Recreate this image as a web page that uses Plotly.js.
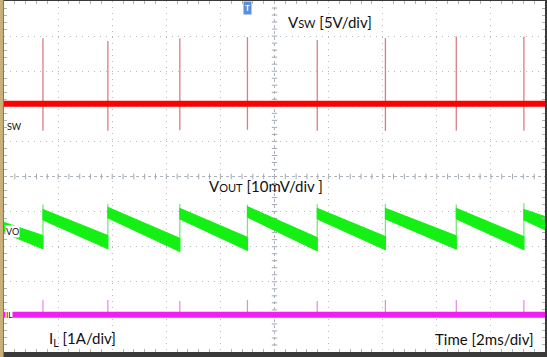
<!DOCTYPE html>
<html><head><meta charset="utf-8">
<script src="https://cdn.plot.ly/plotly-3.0.1.min.js"></script>
<style>html,body{margin:0;padding:0;background:#fff;}#chart{width:547px;height:357px;}</style>
</head><body><div id="chart"></div>
<script>
// Time axis in divisions (2 ms/div), vertical axis in divisions
const jumpT = [0.72, 1.92, 3.25, 4.50, 5.79, 7.05, 8.36, 9.61];
// Switch node (5 V/div)
const swLevel = 2.07;
const swSpikeTop = [3.94, 3.86, 3.94, 3.97, 3.89, 3.94, 3.99, 3.99];
const swSpikeBottom = [1.30, 1.30, 1.32, 1.33, 1.30, 1.30, 1.30, 1.30];
// Output voltage ripple (10 mV/div), per segment centre level
const voSegStart = [0, 0.72, 1.92, 3.25, 4.50, 5.79, 7.05, 8.36, 9.61];
const voSegEnd   = [0.72, 1.92, 3.25, 4.50, 5.79, 7.05, 8.36, 9.61, 10];
const voStartLevel = [-1.45, -1.08, -1.02, -1.05, -1.00, -1.05, -1.05, -1.05, -1.08];
const voEndLevel   = [-1.87, -1.87, -1.95, -1.92, -1.93, -1.90, -1.88, -1.90, -1.33];
const voJumpTop = [-0.80, -0.78, -0.78, -0.80, -0.78, -0.78, -0.80, -0.76];
const voHalf = 0.19;
// Inductor current (1 A/div)
const ilLevel = -3.94;
const ilSpikeTop = [-3.52, -3.52, -3.55, -3.52, -3.55, -3.52, -3.52, -3.52];

const traces = [];
// SW spikes
let sx = [], sy = [];
jumpT.forEach((t, i) => { sx.push(t, t, null); sy.push(swSpikeBottom[i], swSpikeTop[i], null); });
traces.push({x: sx, y: sy, mode: 'lines', line: {color: 'rgba(214,110,120,0.9)', width: 1.3}, hoverinfo: 'skip'});
// SW band
traces.push({x: [0, 10], y: [swLevel, swLevel], mode: 'lines', line: {color: '#ff0000', width: 6}, hoverinfo: 'skip'});
// VO jump lines
let jx = [], jy = [];
jumpT.forEach((t, i) => { jx.push(t, t, null); jy.push(voEndLevel[i] - voHalf, voJumpTop[i], null); });
traces.push({x: jx, y: jy, mode: 'lines', line: {color: 'rgba(110,225,110,0.9)', width: 1.3}, hoverinfo: 'skip'});
// VO bands
let vx = [], vy = [];
voSegStart.forEach((s, i) => {
  const e = voSegEnd[i];
  vx.push(s, e, e, s, s, null);
  vy.push(voStartLevel[i] + voHalf * 0.75, voEndLevel[i] + voHalf, voEndLevel[i] - voHalf, voStartLevel[i] - voHalf * 0.85, voStartLevel[i] + voHalf * 0.75, null);
});
traces.push({x: vx, y: vy, mode: 'lines', fill: 'toself', fillcolor: '#14f014', line: {color: '#14f014', width: 1}, hoverinfo: 'skip'});
// IL spikes
let ix = [], iy = [];
jumpT.forEach((t, i) => { ix.push(t, t, null); iy.push(ilLevel, ilSpikeTop[i], null); });
traces.push({x: ix, y: iy, mode: 'lines', line: {color: 'rgba(230,120,230,0.9)', width: 1.2}, hoverinfo: 'skip'});
// IL band
traces.push({x: [0, 10], y: [ilLevel, ilLevel], mode: 'lines', line: {color: '#f020f0', width: 6}, hoverinfo: 'skip'});

const shapes = [];
// centre crosshair with minor ticks
shapes.push({type: 'line', xref: 'x', yref: 'y', x0: 5, x1: 5, y0: -5, y1: 5, line: {color: '#a8b0b8', width: 1, dash: 'dot'}, layer: 'below'});
shapes.push({type: 'line', xref: 'x', yref: 'y', x0: 0, x1: 10, y0: 0, y1: 0, line: {color: '#a8b0b8', width: 1, dash: 'dot'}, layer: 'below'});
for (let k = 1; k < 50; k++) {
  const yy = -5 + k * 0.2;
  shapes.push({type: 'line', xref: 'x', yref: 'y', x0: 4.95, x1: 5.05, y0: yy, y1: yy, line: {color: '#a0a8b0', width: 1}, layer: 'below'});
  const xx = k * 0.2;
  shapes.push({type: 'line', xref: 'x', yref: 'y', x0: xx, x1: xx, y0: -0.08, y1: 0.08, line: {color: '#a0a8b0', width: 1}, layer: 'below'});
}
// frame decorations
shapes.push({type: 'rect', xref: 'paper', yref: 'paper', x0: -0.0075, x1: -0.001, y0: -0.02, y1: 1.01, fillcolor: '#c8b27a', line: {width: 0}});
shapes.push({type: 'line', xref: 'paper', yref: 'paper', x0: -0.001, x1: -0.001, y0: -0.02, y1: 1.01, line: {color: '#8a7a50', width: 1}});

const font = 'Lato, "Open Sans", sans-serif';
const annotations = [
  {x: 5.22, y: 4.40, xref: 'x', yref: 'y', xanchor: 'left', yanchor: 'middle', showarrow: false,
   text: 'V<span style="font-size:11px">SW</span> [5V/div]', font: {family: font, size: 15, color: '#111'}},
  {x: 3.75, y: -0.28, xref: 'x', yref: 'y', xanchor: 'left', yanchor: 'middle', showarrow: false,
   text: 'V<span style="font-size:11px">OUT</span> [10mV/div ]', font: {family: font, size: 15, color: '#111'}},
  {x: 0.79, y: -4.62, xref: 'x', yref: 'y', xanchor: 'left', yanchor: 'middle', showarrow: false,
   text: 'I<sub>L</sub> [1A/div]', font: {family: font, size: 15, color: '#111'}},
  {x: 9.83, y: -4.62, xref: 'x', yref: 'y', xanchor: 'right', yanchor: 'middle', showarrow: false,
   text: 'Time [2ms/div]', font: {family: font, size: 15, color: '#111'}},
  {x: 0.02, y: 1.42, xref: 'x', yref: 'y', xanchor: 'left', yanchor: 'middle', showarrow: false,
   text: 'SW', font: {family: font, size: 9, color: '#111'}},
  {x: 0.02, y: -1.56, xref: 'x', yref: 'y', xanchor: 'left', yanchor: 'middle', showarrow: false,
   text: 'VO', bgcolor: '#ffffff', borderpad: 0, font: {family: font, size: 9, color: '#111'}},
  {x: 0.02, y: -3.94, xref: 'x', yref: 'y', xanchor: 'left', yanchor: 'middle', showarrow: false,
   text: 'IL', bgcolor: '#ffffff', borderpad: 0, font: {family: font, size: 8, color: '#111'}},
  {x: 4.50, y: 1, xref: 'x', yref: 'paper', xanchor: 'center', yanchor: 'top', showarrow: false,
   text: '<b>T</b>', bgcolor: '#5a8fd8', borderpad: 1, font: {family: font, size: 8, color: '#ffffff'}}
];

const layout = {
  width: 547, height: 357,
  margin: {l: 4, r: 2, t: 1, b: 5, pad: 0},
  paper_bgcolor: '#3a3a3a', plot_bgcolor: '#ffffff',
  showlegend: false,
  xaxis: {range: [0, 10], dtick: 1, tick0: 0, showticklabels: false, showgrid: true, gridcolor: '#b8bcc0', griddash: '1px,5px',
          zeroline: false, ticks: 'inside', ticklen: 0, showline: false,
          minor: {dtick: 0.2, ticks: 'inside', ticklen: 3, tickcolor: '#b0b4b8', showgrid: false}, mirror: 'ticks', fixedrange: true},
  yaxis: {range: [-5, 5], dtick: 1, tick0: 0, showticklabels: false, showgrid: true, gridcolor: '#b8bcc0', griddash: '1px,5px',
          zeroline: false, ticks: 'inside', ticklen: 0, showline: false,
          minor: {dtick: 0.2, ticks: 'inside', ticklen: 3, tickcolor: '#b0b4b8', showgrid: false}, mirror: 'ticks', fixedrange: true},
  shapes: shapes, annotations: annotations
};
Plotly.newPlot('chart', traces, layout, {displayModeBar: false, staticPlot: true});
</script></body></html>
